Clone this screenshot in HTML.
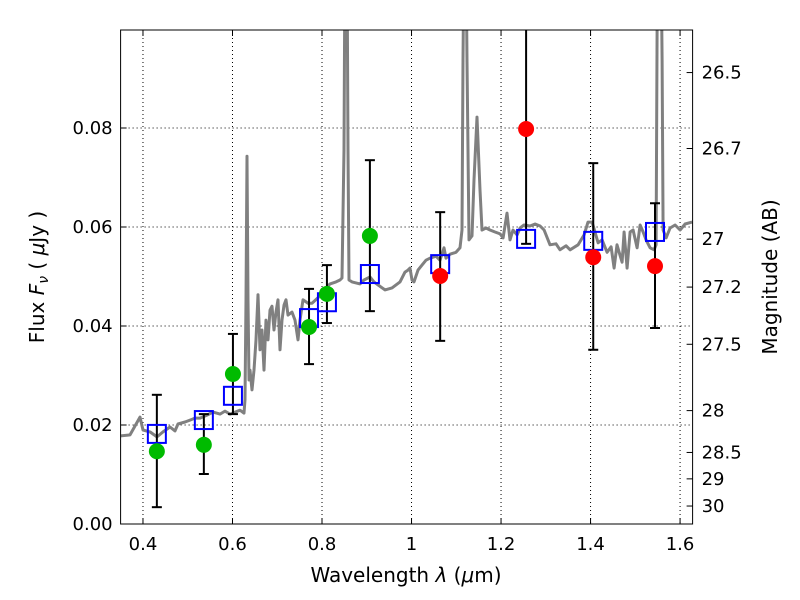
<!DOCTYPE html>
<html><head><meta charset="utf-8"><style>
body{margin:0;background:#fff}
svg{display:block;font-family:"DejaVu Sans","Liberation Sans",sans-serif}
</style></head><body>
<svg id="chart" width="800" height="600" viewBox="0 0 800 600" xmlns="http://www.w3.org/2000/svg">
<defs><clipPath id="plotclip"><rect x="120.6" y="30" width="572" height="494"/></clipPath></defs>
<rect x="0" y="0" width="800" height="600" fill="#fff"/>
<g id="grid"></g>
<g id="spec" clip-path="url(#plotclip)"></g>
<g id="marks" clip-path="url(#plotclip)"></g>
<rect x="120.6" y="30" width="572" height="494" fill="none" stroke="#000" stroke-width="1"/>
<g id="axes"></g>
<text x="406" y="582" font-size="20" text-anchor="middle">Wavelength  <tspan font-style="italic">λ</tspan> (<tspan font-style="italic">μ</tspan>m)</text>
<text transform="translate(44,277) rotate(-90)" font-size="20" text-anchor="middle">Flux  <tspan font-style="italic">F</tspan><tspan font-style="italic" font-size="14" dy="4">ν</tspan><tspan dy="-4">  ( </tspan><tspan font-style="italic">μ</tspan>Jy )</text>
<text transform="translate(777,277) rotate(-90)" font-size="20" text-anchor="middle">Magnitude (AB)</text>
</svg>
<script>
const specLam=[0.3486,0.371,0.3933,0.4,0.4156,0.4313,0.4447,0.4603,0.4715,0.4782,0.4939,0.505,0.5162,0.5274,0.543,0.5564,0.5721,0.5832,0.5944,0.6056,0.6168,0.6257,0.6279,0.6302,0.6324,0.6346,0.6369,0.6391,0.6436,0.648,0.6525,0.657,0.6615,0.6659,0.6704,0.6749,0.6793,0.6838,0.6883,0.6927,0.6972,0.7017,0.7061,0.7106,0.7151,0.7196,0.724,0.733,0.7397,0.7464,0.7508,0.7575,0.7687,0.7777,0.7911,0.8045,0.8179,0.8313,0.8402,0.8447,0.8492,0.8514,0.8559,0.8581,0.8603,0.867,0.876,0.8849,0.8939,0.9073,0.9162,0.9251,0.9408,0.9564,0.9743,0.9855,0.9922,0.9966,1.0011,1.0056,1.0145,1.0235,1.0324,1.0413,1.0547,1.0637,1.0726,1.0771,1.086,1.0994,1.1084,1.1128,1.1151,1.1173,1.1218,1.124,1.1285,1.1352,1.1397,1.1464,1.1531,1.1575,1.1665,1.1754,1.1866,1.1978,1.2045,1.2134,1.2201,1.2268,1.2358,1.2425,1.2514,1.2648,1.276,1.2872,1.2961,1.3095,1.3229,1.3318,1.3453,1.3542,1.3721,1.3855,1.3944,1.4034,1.4168,1.4257,1.4369,1.4458,1.4525,1.4592,1.4659,1.4704,1.4749,1.4816,1.4883,1.495,1.5039,1.5106,1.5173,1.524,1.533,1.5419,1.5464,1.5486,1.5508,1.5575,1.5598,1.562,1.5687,1.5777,1.5888,1.6,1.6112,1.6268];
const specFlux=[0.0178,0.018,0.0216,0.019,0.0186,0.0176,0.0186,0.0196,0.0188,0.0202,0.0206,0.021,0.0214,0.0214,0.022,0.0226,0.0222,0.0228,0.0222,0.0226,0.023,0.0224,0.0251,0.0453,0.0743,0.0453,0.0291,0.0311,0.0271,0.0311,0.0372,0.0463,0.0352,0.0392,0.0311,0.0412,0.0372,0.0432,0.044,0.0392,0.0428,0.0453,0.0352,0.0412,0.0442,0.0453,0.0422,0.0428,0.0412,0.0372,0.0412,0.0453,0.0446,0.0446,0.0457,0.0473,0.0485,0.0489,0.0493,0.0497,0.0756,0.116,0.116,0.0756,0.0493,0.0489,0.0487,0.0485,0.0493,0.0499,0.0489,0.0483,0.0473,0.0477,0.0489,0.0509,0.0513,0.0517,0.0493,0.0489,0.0513,0.0523,0.0533,0.0537,0.0541,0.0533,0.0558,0.0537,0.0545,0.0549,0.0558,0.0594,0.0937,0.116,0.116,0.0937,0.0574,0.0582,0.0695,0.0822,0.0675,0.0594,0.0598,0.0594,0.059,0.0586,0.0578,0.0628,0.0574,0.0594,0.0584,0.0598,0.0604,0.0602,0.0606,0.0602,0.0594,0.0564,0.0566,0.0554,0.0562,0.0554,0.0564,0.0584,0.061,0.061,0.0568,0.0574,0.0549,0.056,0.0517,0.0564,0.0543,0.0529,0.059,0.0517,0.059,0.0594,0.0558,0.0604,0.059,0.0574,0.0558,0.0554,0.0564,0.0998,0.116,0.116,0.0937,0.0594,0.0578,0.0598,0.0604,0.0594,0.0606,0.061];
const obsLam=[0.431,0.536,0.601,0.771,0.811,0.907,1.064,1.256,1.406,1.544];
const obsFlux=[0.0147,0.016,0.0303,0.0398,0.0465,0.0582,0.0501,0.0798,0.0539,0.0521];
const obsErrHi=[0.0261,0.0222,0.0384,0.0475,0.0523,0.0735,0.063,0.115,0.0729,0.0648];
const obsErrLo=[0.0034,0.0101,0.0222,0.0323,0.0406,0.043,0.037,0.0566,0.0352,0.0396];
const obsColor=["#00bb00","#00bb00","#00bb00","#00bb00","#00bb00","#00bb00","#ff0000","#ff0000","#ff0000","#ff0000"];
const modelFlux=[0.0182,0.021,0.0259,0.0416,0.0448,0.0505,0.0525,0.0576,0.0572,0.059];
const xTicks=[0.4,0.6,0.8,1.0,1.2,1.4,1.6];
const xTickLabels=["0.4","0.6","0.8","1","1.2","1.4","1.6"];
const yTicks=[0,0.02,0.04,0.06,0.08];
const yTickLabels=["0.00","0.02","0.04","0.06","0.08"];
const magTicks=[26.5,26.7,27,27.2,27.5,28,28.5,29,30];
const magTickLabels=["26.5","26.7","27","27.2","27.5","28","28.5","29","30"];

const NS="http://www.w3.org/2000/svg";
const X0=120.6,X1=692.6,Y0=524,Y1=30;
const LMIN=0.35,LMAX=1.628,FMIN=0,FMAX=0.0998;
const xs=l=>X0+(l-LMIN)/(LMAX-LMIN)*(X1-X0);
const ys=f=>Y0-(f-FMIN)/(FMAX-FMIN)*(Y0-Y1);
const magToFlux=m=>Math.pow(10,(23.9-m)/2.5);
function mk(tag,attrs,parent){const e=document.createElementNS(NS,tag);for(const k in attrs)e.setAttribute(k,attrs[k]);parent.appendChild(e);return e;}
const grid=document.getElementById('grid'),axes=document.getElementById('axes'),spec=document.getElementById('spec'),marks=document.getElementById('marks');

xTicks.forEach((t,i)=>{const x=xs(t);
 const g=mk('line',{x1:x,x2:x,y1:Y1,y2:Y0,stroke:'#000','stroke-width':1,'stroke-dasharray':'1,3'},grid);
 
 
 mk('line',{x1:x,x2:x,y1:Y0,y2:Y0-6,stroke:'#000'},axes);
 mk('line',{x1:x,x2:x,y1:Y1,y2:Y1+6,stroke:'#000'},axes);
 const tx=mk('text',{x:x,y:Y0+26,'font-size':18,'text-anchor':'middle'},axes);tx.textContent=xTickLabels[i];
 
 
});
yTicks.forEach((t,i)=>{const y=ys(t);
 const g=mk('line',{x1:X0,x2:X1,y1:y,y2:y,stroke:'#000','stroke-width':1,'stroke-dasharray':'1,3'},grid);
 
 
 mk('line',{x1:X0,x2:X0+6,y1:y,y2:y,stroke:'#000'},axes);
 const tx=mk('text',{x:X0-8,y:y+6,'font-size':18,'text-anchor':'end'},axes);tx.textContent=yTickLabels[i];
 
 
});
magTicks.forEach((m,i)=>{const y=ys(magToFlux(m));
 mk('line',{x1:X1,x2:X1-6,y1:y,y2:y,stroke:'#000'},axes);
 const tx=mk('text',{x:X1+9,y:y+6,'font-size':18,'text-anchor':'start'},axes);tx.textContent=magTickLabels[i];
 
 
});

const pts=specLam.map((l,i)=>xs(l).toFixed(1)+','+ys(specFlux[i]).toFixed(1)).join(' ');
const pl=mk('polyline',{points:pts,fill:'none',stroke:'#808080','stroke-width':3,'stroke-linejoin':'round'},spec);



obsLam.forEach((l,i)=>{const x=xs(l);
 const eb=mk('line',{x1:x,x2:x,y1:ys(obsErrHi[i]),y2:ys(obsErrLo[i]),stroke:'#000','stroke-width':2},marks);
 
 
 [obsErrHi[i],obsErrLo[i]].forEach(v=>mk('line',{x1:x-5,x2:x+5,y1:ys(v),y2:ys(v),stroke:'#000','stroke-width':2},marks));
 const sq=mk('rect',{x:x-9,y:ys(modelFlux[i])-9,width:18,height:18,fill:'none',stroke:'#0000ff','stroke-width':2},marks);
 
 
 const c=mk('circle',{cx:x,cy:ys(obsFlux[i]),r:8,fill:obsColor[i]},marks);
 
 
});
</script>
</body></html>
